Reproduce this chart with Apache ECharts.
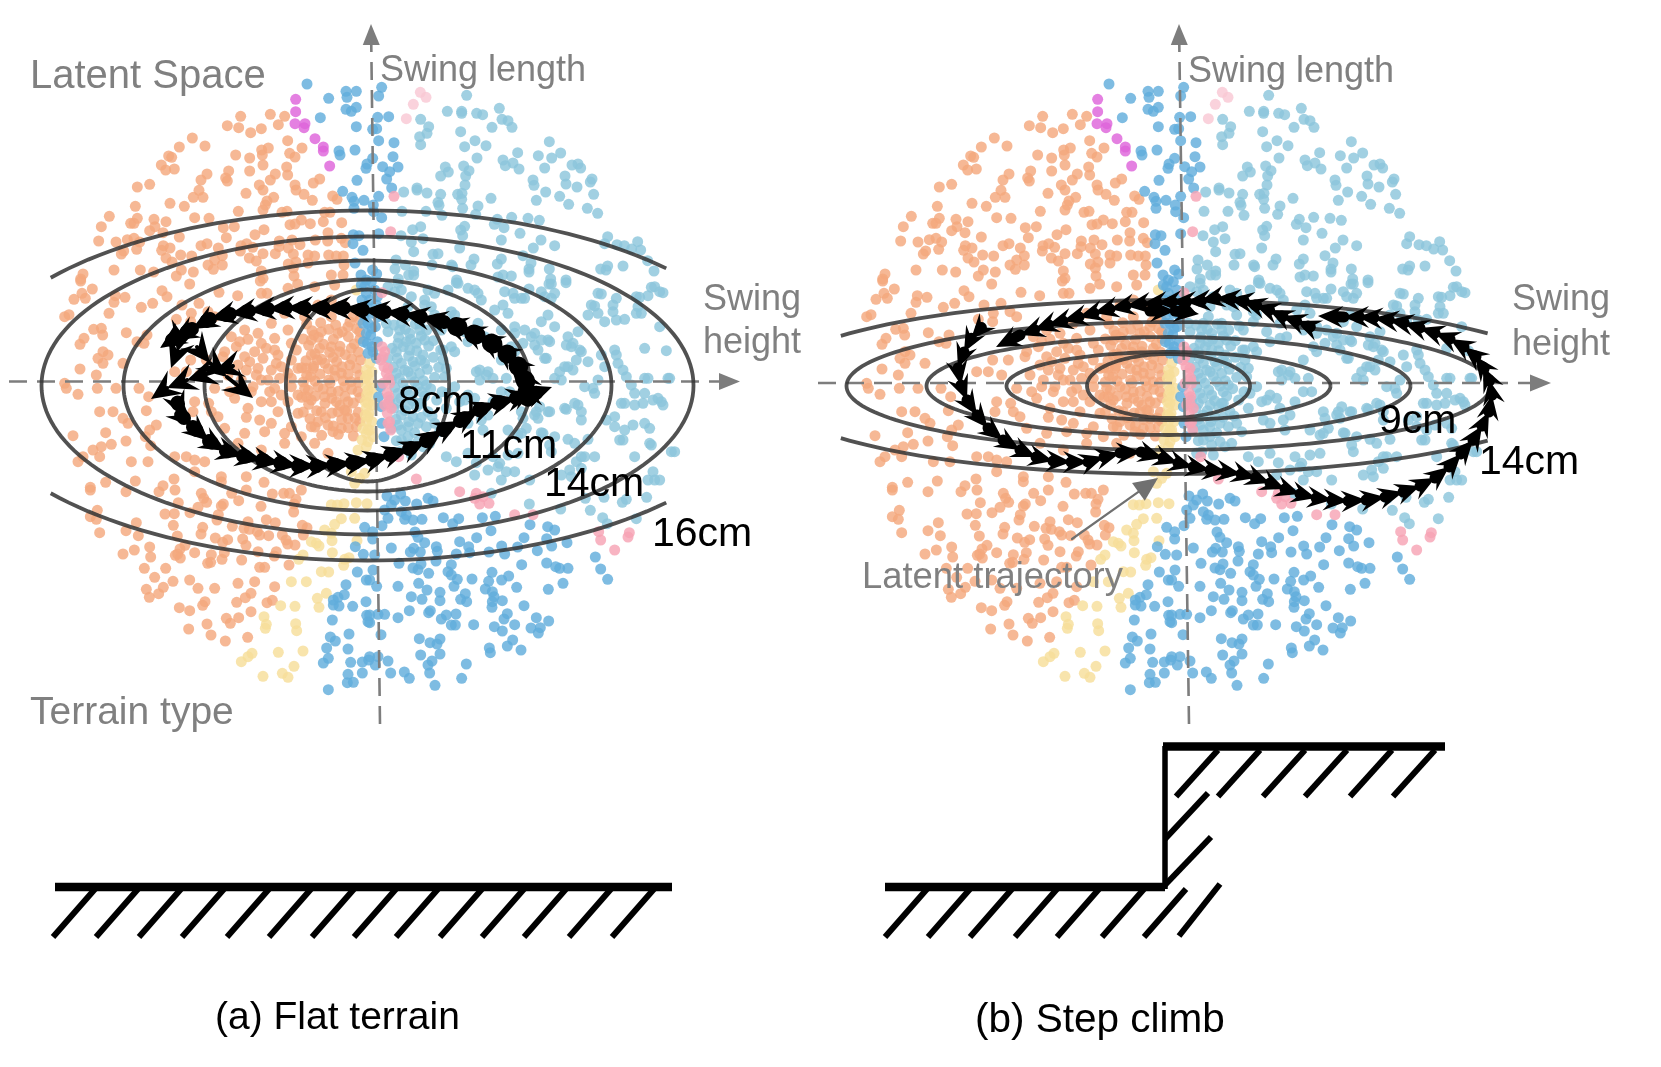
<!DOCTYPE html>
<html><head><meta charset="utf-8">
<style>html,body{margin:0;padding:0;background:#fff}#c{width:1661px;height:1067px}</style>
<script src="https://cdn.jsdelivr.net/npm/echarts@6/dist/echarts.min.js"></script>
</head><body><div id="c"></div>
<script>
// Latent points in crops (crop px = 3 x page px). Same cloud in both panels.
const orangeNW=[[548,139],[637,133],[680,139],[508,167],[542,173],[578,188],[610,176],[661,164],[403,204],[441,228],[364,231],[689,212],[732,234],[332,258],[341,262],[310,285],[323,300],[349,297],[533,255],[575,264],[611,240],[631,234],[613,255],[695,250],[711,261],[615,285],[686,291],[689,315],[575,303],[512,303],[447,312],[429,330],[503,324],[508,333],[652,312],[637,330],[238,351],[275,343],[604,345],[615,360],[711,345],[714,360],[738,373],[763,391],[785,327],[766,339],[824,378],[837,388],[564,370],[423,361],[406,382],[435,382],[336,400],[379,409],[232,409],[647,382],[627,393],[622,405],[615,420],[541,424],[672,427],[687,424],[800,427],[816,427],[154,439],[238,445],[288,448],[410,443],[453,445],[324,455],[218,460],[228,460],[130,470],[796,455],[851,458],[730,450],[696,464],[711,462],[757,461],[496,473],[529,470],[275,482],[291,470],[315,488],[618,479],[591,494],[364,501],[505,503],[122,513],[174,516],[208,509],[228,505],[245,516],[236,538],[197,543],[190,552],[810,488],[809,513],[772,510],[850,505],[862,518],[664,513],[702,510],[726,524],[663,530],[447,521],[429,527],[481,534],[316,527],[336,534],[311,541],[549,527],[566,521],[584,532],[547,543],[691,534],[706,552],[652,551],[615,551],[368,555],[401,558],[324,564],[342,576],[493,557],[470,570],[450,585],[493,585],[466,598],[574,564],[595,573],[750,555],[770,558],[812,555],[835,558],[856,558],[750,579],[858,585],[691,582],[714,576],[706,594],[168,600],[247,600],[287,606],[370,600],[406,606],[355,618],[610,603],[820,615],[855,615],[75,612],[68,627],[708,618],[615,625]];
const orangeW=[[68,3],[395,12],[103,27],[72,40],[48,58],[82,55],[172,47],[201,52],[168,67],[312,32],[327,50],[284,70],[250,82],[372,75],[423,70],[483,37],[539,47],[610,40],[627,40],[690,25],[719,12],[770,20],[830,15],[607,3],[33,104],[20,110],[153,100],[400,100],[355,118],[398,125],[450,95],[470,110],[107,148],[130,145],[134,165],[205,158],[78,175],[66,193],[267,165],[237,185],[258,190],[135,215],[150,225],[120,235],[135,250],[195,250],[66,267],[115,285],[20,310],[25,325],[118,325],[174,325],[60,343],[243,325],[272,350],[350,275],[385,275],[425,285],[398,240],[445,240],[495,230],[500,215],[560,230],[590,215],[650,210],[715,210],[640,270],[670,260],[690,280],[565,270],[600,265],[510,285],[470,325],[515,335],[545,320],[580,335],[635,335],[640,365],[530,355],[410,365],[405,395],[452,370],[460,395],[480,410],[265,392],[125,395],[165,395],[195,415],[210,430],[295,435],[275,450],[45,467],[143,458],[204,483],[160,493],[130,500],[105,510],[262,470],[278,497],[75,530],[60,545],[125,530],[220,545],[270,545],[350,530],[385,530],[410,540],[440,545],[410,575],[490,590],[490,605],[565,590],[618,607],[143,607],[232,603],[348,597],[315,617],[97,622],[640,430],[605,420],[565,412],[700,440],[760,440],[540,490],[680,490],[640,130],[690,150],[680,100],[780,75],[820,60],[860,80],[740,110],[600,160],[650,175],[560,150],[700,190],[520,170],[545,185],[610,190],[660,225],[700,240],[720,265],[610,300],[700,320],[670,345],[610,365],[570,385],[660,395],[720,400],[500,445],[560,460],[620,455],[680,460],[730,470],[610,510],[770,490],[810,520],
[535,200],[570,178],[625,205],[575,245],[615,235],[655,250],[540,255],[595,285],[630,300],[665,295],[550,300],[585,320],[650,325],[690,365],[700,295],[720,345]];
const orangeCore=[[746,132],[788,128],[833,135],[876,126],[762,152],[812,148],[853,155],[896,146],[736,177],[781,172],[826,178],[871,170],[906,176],[752,196],[797,193],[846,199],[889,192],[771,221],[815,217],[862,224],[901,216],[744,242],[791,238],[836,245],[881,237],[731,263],[767,259],[811,266],[852,260],[896,265],[746,286],[786,282],[831,289],[871,283],[736,306],[771,303],[816,309],[856,302],[901,307],[751,331],[796,327],[841,334],[881,328],[731,352],[772,348],[821,355],[861,349],[906,353],[752,373],[801,370],[846,376],[886,369],[736,396],[776,392],[822,399],[866,393],[901,397],[756,416],[802,413],[851,419],[891,414],[771,441],[826,438],[871,443],[791,466],[841,463],[886,468],[768,165],[908,240],[845,215],[758,290],[880,305],[800,350],[905,425],[830,270],[785,205],[860,390],[745,350],[870,140],[820,110],[885,110],[905,120],[760,225],[800,250],[875,255],[825,232],[850,280],[780,320],[820,335],[860,320],[900,335],[760,360],[835,365],[870,365],[790,395],[840,395],[810,435],[850,445],[780,425],[895,440],[765,265],[905,285],[840,160],[790,155],[880,205],[820,200],[760,180],[870,415],[825,455],[905,155],[740,325],[745,265],[778,240],[812,300]];
const orangeSW=[[97,0],[204,5],[303,5],[351,0],[430,10],[437,25],[446,37],[361,38],[521,10],[542,32],[496,42],[490,48],[565,0],[643,12],[677,10],[694,10],[730,0],[714,28],[708,42],[609,49],[707,66],[118,61],[97,80],[115,88],[321,72],[349,71],[396,68],[420,52],[481,74],[477,90],[235,98],[346,106],[434,112],[429,132],[523,109],[570,95],[558,115],[574,118],[625,89],[652,98],[733,106],[747,113],[736,135],[204,122],[125,128],[241,137],[358,138],[598,125],[605,135],[632,137],[472,144],[494,157],[509,149],[554,147],[564,166],[673,135],[684,150],[689,162],[711,165],[275,171],[229,180],[195,192],[278,201],[381,166],[366,177],[359,192],[352,196],[410,188],[367,204],[460,194],[499,188],[600,185],[655,185],[649,198],[492,208],[458,217],[449,220],[551,210],[693,225],[259,235],[323,235],[605,232],[620,232],[290,262],[345,274],[395,270],[420,295],[470,295],[265,298],[316,292],[302,311],[274,322],[562,323],[536,337],[579,310],[627,338],[643,331],[441,335],[434,346],[364,353],[395,362],[579,365],[505,385],[517,400],[542,383],[392,417],[447,402],[459,435],[502,453],[569,442],[650,290],[590,275],[540,280]];
const yellowW=[[925,270],[922,295],[925,315],[926,345],[922,365],[925,385],[922,405],[925,425],[915,445],[925,460],[912,480],[925,500],[900,510],[880,575],[905,595],[920,580],[895,30],[890,610],[928,285],[930,330],[930,370],[930,410],[930,450],[930,485]];
const yellowE=[[5,250],[12,275],[3,300],[15,325],[5,350],[15,375],[3,400],[12,425],[5,450],[15,470]];
const yellowSW=[[820,44],[838,45],[858,41],[895,38],[927,41],[890,85],[850,86],[830,103],[800,120],[820,130],[822,152],[760,155],[775,160],[783,168],[823,188],[735,195],[722,208],[873,203],[860,208],[857,226],[790,245],[812,246],[745,275],[805,310],[778,325],[783,352],[711,349],[668,347],[618,380],[625,403],[622,415],[713,401],[716,422],[661,487],[735,483],[582,490],[570,500],[550,515],[708,529],[615,559],[673,550],[690,562],[897,152],[700,275]];
const blueNW=[[747,42],[812,85],[864,64],[895,64],[867,82],[864,118],[880,124],[895,112],[787,143],[895,170],[843,243],[846,255],[891,240],[927,282],[924,295],[897,331],[854,364],[882,382],[888,394],[888,415],[918,391],[886,494],[903,497],[885,521],[915,541],[891,579],[909,615]];
const blueN=[[41,52],[32,78],[29,142],[62,140],[14,178],[26,176],[32,212],[78,218],[14,265],[75,260],[44,290],[90,291],[65,305],[56,327],[71,354],[32,379],[16,405],[17,425],[41,443],[32,491],[14,600],[26,612]];
const blueColW=[[925,0],[910,15],[925,40],[920,20],[925,80],[915,130],[925,160],[912,60],[918,105],[928,190],[930,220],[916,185]];
const blueColE=[[10,5],[20,30],[5,60],[25,75],[10,100],[0,130],[22,140],[8,165],[28,185],[12,200],[38,320],[32,350],[40,380],[42,430],[48,470],[12,145],[30,110],[28,50],[15,215],[25,235]];
const blueSW=[[920,112],[892,170],[916,193],[898,246],[925,270],[864,284],[859,314],[840,322],[826,330],[826,345],[843,348],[884,349],[924,335],[926,376],[823,390],[930,395],[873,432],[817,441],[832,453],[806,474],[870,477],[811,505],[796,519],[878,517],[913,516],[913,549],[870,553],[868,578],[886,577],[811,599],[932,510]];
const blueSE=[[57,18],[98,12],[80,30],[112,33],[50,60],[70,45],[100,65],[115,75],[60,85],[42,107],[135,90],[162,88],[110,88],[146,42],[180,25],[195,33],[226,83],[254,101],[272,86],[343,83],[382,79],[369,122],[486,104],[539,110],[560,120],[14,125],[14,147],[141,126],[150,142],[170,158],[137,175],[127,186],[157,186],[70,174],[20,195],[275,155],[326,143],[302,170],[305,188],[265,192],[205,170],[208,184],[204,213],[93,220],[363,186],[401,168],[410,192],[449,171],[468,143],[536,146],[551,168],[597,158],[508,182],[159,222],[135,234],[150,239],[182,250],[15,240],[250,224],[240,245],[250,255],[268,268],[312,267],[258,289],[372,247],[362,274],[401,270],[422,258],[461,224],[536,219],[563,230],[575,235],[600,235],[585,280],[446,292],[541,298],[5,270],[26,289],[90,289],[152,280],[177,300],[216,307],[352,297],[373,305],[378,320],[292,311],[130,320],[162,328],[216,332],[278,328],[296,335],[373,335],[403,332],[372,352],[468,347],[682,201],[698,237],[719,268],[187,362],[182,368],[124,362],[90,383],[30,373],[50,373],[5,375],[5,398],[220,387],[235,375],[264,372],[250,405],[262,405],[317,404],[418,371],[408,387],[379,410],[440,404],[403,423],[505,383],[542,393],[489,414],[517,413],[511,429],[39,434],[154,446],[186,458],[216,447],[207,462],[216,492],[158,495],[364,474],[367,488],[418,468],[434,450],[459,480],[192,513],[180,525],[295,522],[60,513],[5,500],[30,500],[22,525],[68,549],[109,546],[124,565],[185,549],[281,565],[201,586]];
const lightN=[[296,76],[238,124],[281,124],[281,130],[326,130],[344,134],[394,115],[402,148],[420,152],[432,172],[372,172],[158,148],[182,170],[177,190],[155,200],[158,224],[278,185],[321,212],[354,227],[290,230],[327,264],[449,248],[511,257],[544,215],[551,264],[578,249],[405,270],[412,287],[435,279],[453,297],[530,294],[612,285],[630,282],[638,294],[232,291],[287,288],[303,302],[241,306],[218,318],[293,318],[291,345],[495,330],[498,346],[591,318],[594,342],[627,351],[672,327],[667,336],[147,354],[147,360],[107,366],[177,369],[218,373],[269,373],[282,370],[281,388],[369,385],[533,366],[575,379],[505,391],[677,373],[602,403],[210,397],[213,406],[284,415],[330,408],[658,415],[689,430],[102,424],[174,424],[222,436],[323,433],[431,442],[480,445],[514,451],[388,448],[379,463],[408,473],[456,490],[134,479],[158,470],[290,469],[278,480],[284,497],[99,497],[165,506],[130,516],[400,510],[519,510],[496,534],[560,527],[719,500],[710,521],[747,524],[769,527],[809,515],[791,537],[818,540],[137,545],[275,534],[195,553],[210,551],[465,557],[84,570],[112,585],[81,597],[192,585],[251,585],[254,590],[318,567],[309,585],[400,567],[388,582],[489,579],[483,597],[483,606],[544,597],[698,597],[719,588],[714,600],[765,588],[839,572],[858,603],[137,603],[122,615],[137,615],[405,615],[390,621],[430,618],[91,627],[266,630],[548,627],[594,630]];
const lightE=[[90,10],[60,20],[80,35],[265,8],[240,30],[300,25],[180,30],[330,40],[410,35],[435,40],[460,55],[483,27],[543,12],[594,8],[530,50],[550,55],[690,40],[745,55],[805,50],[840,47],[875,35],[850,22],[670,75],[735,75],[810,80],[805,100],[690,100],[120,80],[170,60],[200,40],[115,110],[155,130],[200,105],[250,125],[290,155],[330,130],[100,130],[400,150],[440,160],[60,155],[350,170],[465,190],[490,170],[540,180],[595,195],[615,190],[635,210],[740,210],[700,225],[530,235],[400,240],[430,200],[500,195],[220,150],[250,200],[225,210],[300,185],[260,215],[330,175],[235,265],[230,290],[325,275],[355,285],[375,295],[415,295],[335,300],[575,275],[560,295],[600,260],[580,300],[710,260],[750,250],[765,270],[775,290],[830,295],[900,295],[675,325],[650,320],[690,300],[790,315],[830,340],[800,340],[260,320],[300,345],[290,360],[320,355],[275,365],[400,335],[425,335],[375,365],[235,385],[330,385],[360,405],[515,380],[540,395],[590,385],[500,405],[460,395],[465,415],[620,370],[760,370],[800,375],[825,370],[855,360],[880,365],[160,370],[180,395],[200,430],[280,420],[300,430],[340,420],[345,450],[420,450],[460,460],[520,458],[450,465],[560,470],[620,490],[660,478],[755,480],[545,495],[550,515],[640,530],[120,440],[100,480],[150,485],[185,490],[300,520],[235,530],[265,545],[325,548],[375,530],[420,525],[450,520],[390,560],[440,575],[625,545],[605,570],[580,585],[855,575],[840,600],[860,600],[910,515],[845,490],[485,600],
[700,42],[680,78],[660,105],[710,125],[745,120],[770,118],[735,95],[820,100],[815,52],[885,38],[860,20],[875,140],[600,170],[630,155],[610,200],[640,215],[590,260],[625,240],[660,245],[615,270],[680,340],[745,225],[830,205],[895,212],[840,295],[905,295],[870,355],[885,375],[770,370],[740,410],[715,420],[740,440],[770,450],[795,435],[830,430],[845,445],[765,480],[850,495],[630,375],[640,395],[595,388],[640,420],[510,415],[545,395],[505,395],[475,445],[600,478],[525,460],[520,35],[540,105],[520,125],[560,140],[500,160],[470,150],[440,140],[520,180],[545,185],[510,210],[535,235],[440,215],[335,270],[360,275],[270,10],[320,30],[340,60],[190,80],[250,95],[260,105],[130,50],[170,75],[100,30],[405,75],[380,90],[420,100],[440,55],[470,55],[560,40],[550,12],[320,585],[360,570],[395,550],[415,575],[400,600],[650,530],[680,530],[640,565],[610,590],[800,530],[875,600],[920,515]];
const lightCore=[[78,135],[112,148],[142,132],[176,150],[208,138],[92,172],[128,178],[160,168],[196,182],[72,205],[106,200],[146,212],[182,198],[218,210],[88,235],[122,228],[158,240],[196,232],[76,262],[110,270],[140,258],[178,268],[212,262],[94,295],[130,288],[166,302],[200,292],[80,322],[116,330],[150,318],[188,326],[222,335],[98,355],[134,362],[170,348],[206,360],[78,385],[112,392],[146,380],[84,418],[122,425],[160,412],[192,408],[100,450],[140,458],[175,440],[215,455],[85,482],[125,495],[165,500],[95,515],[70,300],[225,240],[240,340],[60,235],[65,360],[70,445],[55,130],[80,520],[130,525],
[95,150],[125,160],[155,150],[90,190],[115,185],[145,190],[170,180],[85,215],[125,210],[165,225],[100,250],[135,245],[170,250],[85,280],[120,275],[155,280],[105,310],[140,305],[175,315],[90,340],[125,345],[160,335],[85,370],[120,375],[155,370],[100,405],[135,410],[90,435],[150,430],[120,470]];
const lightSE=[[484,42],[578,57],[667,61],[704,83],[718,101],[805,86],[763,37],[775,28],[836,22],[652,25],[708,22],[370,10]];
const magentaNW=[[713,88],[713,125],[711,161],[741,161],[738,173],[771,206],[796,231],[796,243],[815,288]];
const paleN=[[157,67],[174,82],[136,103],[115,146]];
const pinkN=[[78,379],[68,485]];
const pinkE=[[42,38],[40,100],[42,200],[45,230],[48,260],[55,280],[45,310],[58,340],[60,370],[58,400],[60,430],[92,530],[145,597],[50,215],[62,295],[68,450],[38,240],[60,265],[65,310],[62,350],[50,375],[70,385],[65,425]];
const pinkSE=[[325,10],[320,25],[345,20],[335,42],[363,40],[440,74],[495,74],[275,5],[692,125],[698,150],[784,128],[780,141],[740,180]];

// Contours: centre x, centre y, x radius, y radius, left cut, right cut (page px)
const contoursA=[[367.5,385.5,81.6,96,0,1661],[367.5,385.5,163,106,0,1661],[367.5,385.5,244,125,0,1661],[367.5,385.5,326,149,0,1661],[367.5,385.5,402,175,50,672]];
const contoursB=[[1168.5,386,81.5,32,0,1661],[1168.5,386,162,34,0,1661],[1168.5,386,242,49,0,1661],[1168.5,386,322,64,0,1661],[1168.5,387,405,87,839,1492]];

// Trajectories (page px)
const trajAStart=[[233,366],[213,372],[187,380],[167,388],[151,399]];
const trajAMain=[[178,404],[184,418],[193,427],[209,441],[226,451],[243,456],[262,460],[280,463],[298,466],[316,466],[333,465],[352,463],[372,460],[390,455],[409,449],[426,441],[443,430],[460,421],[479,410],[497,403],[516,398],[533,394],[552,387]];
const trajATopHeavy=[[527,392],[525,380],[518,366],[507,354],[493,344],[476,335],[458,327],[440,321]];
const trajATop=[[444,322],[421,317],[403,314],[385,312],[363,310],[344,308],[324,308],[305,308],[286,308],[268,309],[249,311],[230,314],[210,319],[192,329],[172,340],[160,348]];
const trajAEnd=[[181,338],[177,352],[171,368]];
const trajAEnd2=[[197,347],[210,363],[227,377],[253,398]];
const trajBMain=[[981,328],[971,339],[964,352],[958,368],[961,385],[967,400],[977,415],[988,428],[1003,440],[1020,450],[1036,457],[1053,461],[1071,462],[1088,462],[1104,457],[1120,453],[1141,452],[1163,458],[1178,463],[1193,467],[1210,470],[1227,472],[1241,474],[1256,478],[1270,483],[1285,489],[1300,494],[1316,498],[1332,500],[1348,501],[1366,500],[1385,497],[1403,492],[1420,486],[1435,478],[1449,467],[1461,454],[1473,440],[1482,426],[1489,412],[1492,395],[1489,380],[1483,367],[1475,356],[1464,347],[1450,339],[1435,333],[1420,328],[1404,323],[1389,320],[1374,318],[1358,317],[1344,317],[1318,316]];
const trajBTop=[[1308,326],[1296,321],[1282,316],[1269,310],[1255,305],[1242,301],[1229,299],[1216,298],[1200,301],[1186,302],[1171,302],[1157,303],[1142,304],[1126,306],[1110,309],[1094,313],[1079,317],[1063,321],[1048,325],[1034,330],[1020,335],[996,347]];
const trajBExtra=[[1150,311],[1175,311],[1199,314]];

// Swing axes and the callout arrow: x1,y1,x2,y2 (page px)
const swingAxes=[[9,381.5,740,381.5],[380,724,371,24],[818,383,1551,383],[1189,724,1179,24]];
const calloutArrow=[[1072,539,1158,478]];

// Terrain sketches: x1,y1,x2,y2 (page px)
const groundBars=[[55,887,672,887],[885,887,1165,887],[1163,746.5,1445,746.5]];
const stepWall=[[1165,746,1165,889]];
const hatchBottoms=[53,96,139,182,227,269,312,354,396,440,482,524,569,612,885,928,970,1015,1057,1102,1144];
const hatchUpperBottoms=[1176,1218,1263,1305,1350,1393];
const hatchExtra=[[1165,839,1208,793],[1165,885,1211,837],[1179,936,1220,884]];

const captions=[["Latent Space",30,77,40,"#808080"],["Swing length",380,71,36,"#808080"],["Swing length",1188,72,36,"#808080"],["Swing",703,300,36,"#808080"],["height",703,343,36,"#808080"],["Swing",1512,300,36,"#808080"],["height",1512,345,36,"#808080"],["Terrain type",30,713,39,"#808080"],["Latent trajectory",862,578,36.4,"#808080"],["8cm",398,403,41,"#000"],["11cm",460,447,41,"#000"],["14cm",544,485,41,"#000"],["16cm",652,535,41,"#000"],["9cm",1379,422,41,"#000"],["14cm",1479,463,41,"#000"],["(a) Flat terrain",215,1018,39,"#000"],["(b) Step climb",975,1021,40.5,"#000"]];

const tile=(arr,x0,y0)=>arr.map(p=>[x0+p[0]/3,y0+p[1]/3]);
const C={nw:[860,70],n:[1170,70],w:[860,280],e:[1170,280],sw:[860,490],se:[1170,490]};
const orange=[...tile(orangeNW,...C.nw),...tile(orangeW,...C.w),...tile(orangeCore,...C.w),...tile(orangeSW,...C.sw)];
const yellow=[...tile(yellowW,...C.w),...tile(yellowE,...C.e),...tile(yellowSW,...C.sw)];
const blue=[...tile(blueNW,...C.nw),...tile(blueN,...C.n),...tile(blueColW,...C.w),...tile(blueColE,...C.e),...tile(blueSW,...C.sw),...tile(blueSE,...C.se)];
const light=[...tile(lightN,...C.n),...tile(lightE,...C.e),...tile(lightCore,...C.e),...tile(lightSE,...C.se)];
const magenta=tile(magentaNW,...C.nw);
const pale=tile(paleN,...C.n);
const pink=[...tile(pinkN,...C.n),...tile(pinkE,...C.e),...tile(pinkSE,...C.se)];
const classes=[[orange,'#F4A87E','Flat'],[yellow,'#F6DE9A','Stairs'],[blue,'#62ADDC','Slope down'],[light,'#8CC6DC','Slope up'],[pink,'#F6A3B5','Gap'],[pale,'#F9C8D4','Stones'],[magenta,'#DE64DA','Steps']];

const scatterSeries=[];
[0,1].forEach(g=>classes.forEach(c=>scatterSeries.push({type:'scatter',name:c[2],xAxisIndex:g,yAxisIndex:g,data:c[0],symbolSize:11,silent:true,itemStyle:{color:c[1],opacity:0.82},z:2})));

function renderContour(params,api){
  const cx=api.value(0),cy=api.value(1),rx=api.value(2),ry=api.value(3),lo=api.value(4),hi=api.value(5);
  const runs=[];let cur=null;
  for(let d=0;d<=360;d+=2){
    const t=d*Math.PI/180,x=cx+rx*Math.cos(t),y=cy+ry*Math.sin(t);
    if(x>=lo&&x<=hi){if(!cur){cur=[];runs.push(cur);}cur.push(api.coord([x,y]));}else cur=null;
  }
  return {type:'group',children:runs.map(r=>({type:'polyline',shape:{points:r},style:{fill:null,stroke:'#333',lineWidth:3.8,opacity:0.85}}))};
}
function customSeries(data,renderItem,z,name){
  return {type:'custom',name:name,xAxisIndex:2,yAxisIndex:2,coordinateSystem:'cartesian2d',clip:false,silent:true,z:z,data:data,renderItem:renderItem,encode:{x:0,y:1}};
}
function segmentRenderer(width,color){
  return (params,api)=>{
    const a=api.coord([api.value(0),api.value(1)]),b=api.coord([api.value(2),api.value(3)]);
    return {type:'line',shape:{x1:a[0],y1:a[1],x2:b[0],y2:b[1]},style:{stroke:color,lineWidth:width}};
  };
}
function arrowRenderer(o){
  return (params,api)=>{
    const a=api.coord([api.value(0),api.value(1)]),b=api.coord([api.value(2),api.value(3)]);
    const dx=b[0]-a[0],dy=b[1]-a[1],len=Math.hypot(dx,dy)||1,ux=dx/len,uy=dy/len,nx=-uy,ny=ux;
    const L=o.head,H=o.half,N=o.notch;
    const base=[b[0]-ux*L*N,b[1]-uy*L*N];
    return {type:'group',children:[
      {type:'line',shape:{x1:a[0],y1:a[1],x2:base[0],y2:base[1]},style:{stroke:o.color,lineWidth:o.shaft,lineDash:o.dash||null,lineCap:o.dash?'butt':'round'}},
      {type:'polygon',shape:{points:[b,[b[0]-ux*L+nx*H,b[1]-uy*L+ny*H],base,[b[0]-ux*L-nx*H,b[1]-uy*L-ny*H]]},style:{fill:o.color}}
    ]};
  };
}
const steps=path=>path.slice(0,-1).map((p,i)=>[p[0],p[1],path[i+1][0],path[i+1][1]]);
const heavy=arrowRenderer({head:28,half:13,notch:0.62,shaft:19,color:'#000'});
const thick=arrowRenderer({head:27,half:12,notch:0.62,shaft:14,color:'#000'});
const medium=arrowRenderer({head:25,half:11,notch:0.62,shaft:11,color:'#000'});
const thin=arrowRenderer({head:30,half:14,notch:0.62,shaft:4,color:'#000'});
const hatchRows=[...hatchBottoms.map(x=>[x,937,x+42,889]),...hatchUpperBottoms.map(x=>[x,796.6,x+42,750]),...hatchExtra];

const option={
  animation:false,
  grid:[
    {left:0,top:0,width:859,height:1067,show:false},
    {left:802,top:0,width:859,height:1067,show:false},
    {left:0,top:0,width:1661,height:1067,show:false}
  ],
  xAxis:[
    {gridIndex:0,type:'value',min:802,max:1661,show:false},
    {gridIndex:1,type:'value',min:802,max:1661,show:false},
    {gridIndex:2,type:'value',min:0,max:1661,show:false}
  ],
  yAxis:[0,1,2].map(i=>({gridIndex:i,type:'value',min:0,max:1067,inverse:true,show:false})),
  series:[
    ...scatterSeries,
    customSeries(contoursA,renderContour,4,'Contours a'),
    customSeries(contoursB,renderContour,4,'Contours b'),
    customSeries(swingAxes,arrowRenderer({head:21,half:8.5,notch:1,shaft:2.6,color:'#7d7d7d',dash:[18,10]}),3,'Swing axes'),
    customSeries(calloutArrow,arrowRenderer({head:24,half:11,notch:1,shaft:2.2,color:'#707070'}),7,'Callout'),
    customSeries(steps(trajAStart),thin,6,'Trajectory a'),
    customSeries(steps(trajAMain),thick,6,'Trajectory a'),
    customSeries(steps(trajATopHeavy),heavy,6,'Trajectory a'),
    customSeries(steps(trajATop),thick,6,'Trajectory a'),
    customSeries(steps(trajAEnd),thin,6,'Trajectory a'),
    customSeries(steps(trajAEnd2),thin,6,'Trajectory a'),
    customSeries(steps(trajBMain),medium,6,'Trajectory b'),
    customSeries(steps(trajBTop),medium,6,'Trajectory b'),
    customSeries(steps(trajBExtra),medium,6,'Trajectory b'),
    customSeries(groundBars,segmentRenderer(8.5,'#000'),5,'Ground'),
    customSeries(stepWall,segmentRenderer(5.5,'#000'),5,'Step'),
    customSeries(hatchRows,segmentRenderer(6,'#000'),5,'Hatching')
  ],
  graphic:{elements:captions.map(c=>({type:'text',z:50,x:c[1],y:c[2],silent:true,style:{text:c[0],fill:c[4],font:c[3]+'px "Liberation Sans", Arial, sans-serif',textAlign:'left',textVerticalAlign:'middle'}}))}
};
echarts.init(document.getElementById('c'),null,{renderer:'canvas'}).setOption(option);
</script></body></html>
